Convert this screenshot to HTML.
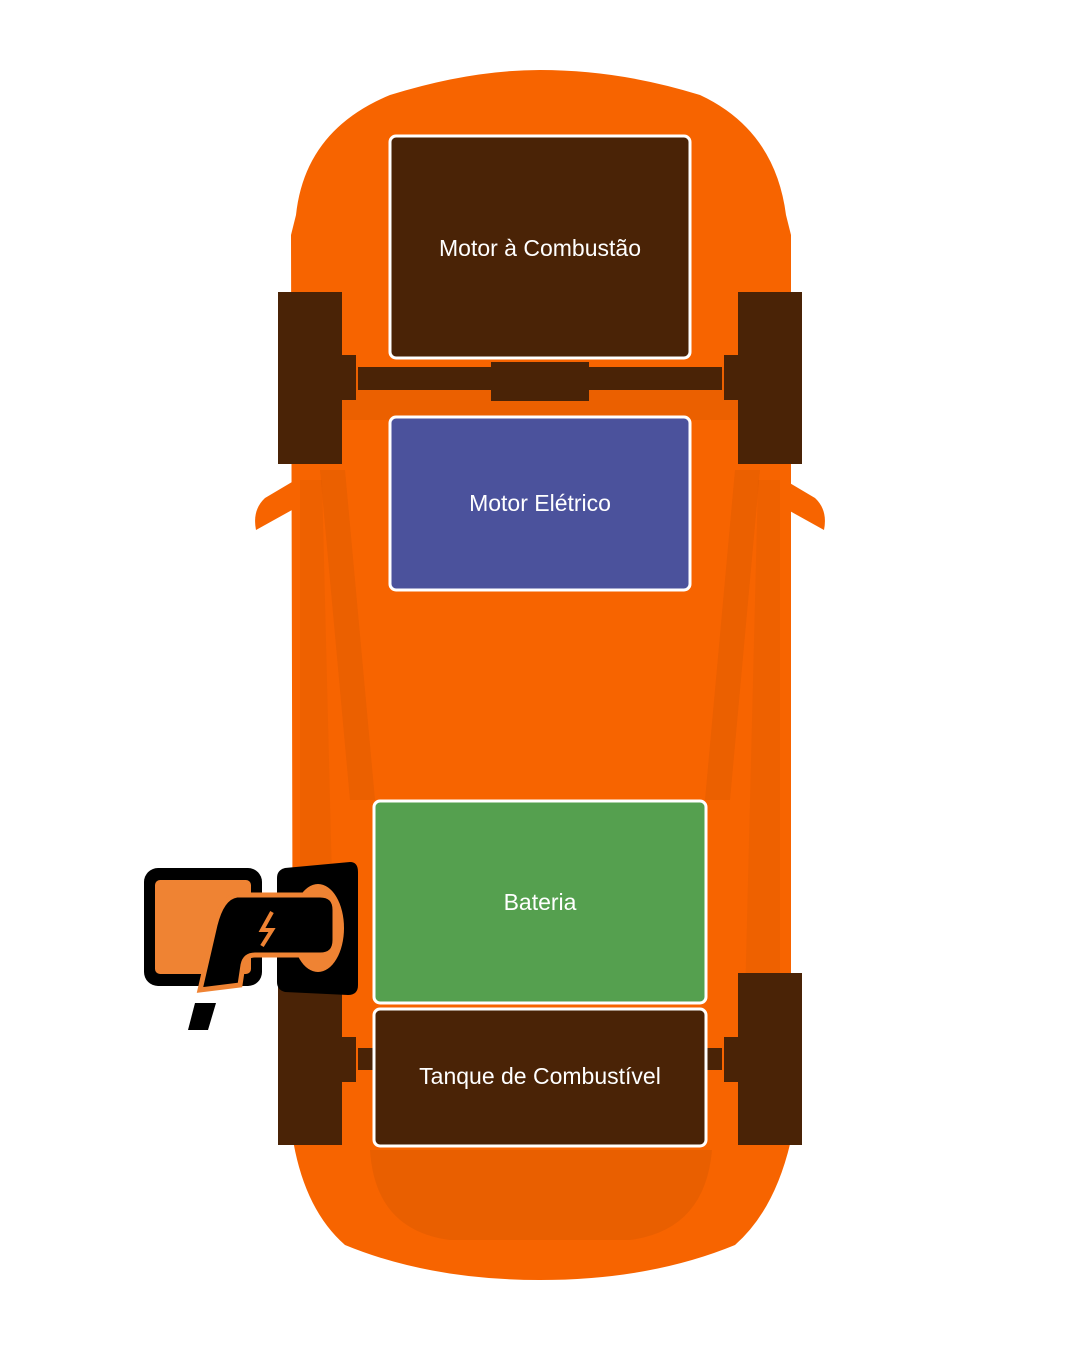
<!DOCTYPE html>
<html><head><style>
html,body{margin:0;padding:0;background:#fff;}
svg{display:block;}
text{font-family:"Liberation Sans",sans-serif;font-size:23px;fill:#fff;text-anchor:middle;dominant-baseline:central;}
</style></head><body>
<svg width="1080" height="1350" viewBox="0 0 1080 1350" xmlns="http://www.w3.org/2000/svg">
<path d="M292 482 L265 498 Q252 510 256 530 L292 510 Z" fill="#f76400"/>
<path d="M788 482 L815 498 Q828 510 824 530 L788 510 Z" fill="#f76400"/>
<path d="M296 215 Q305 130 390 95 Q470 70 540 70 Q620 70 700 95 Q775 130 786 215 L791 235 L791 1140 Q775 1210 735 1245 Q650 1280 540 1280 Q430 1280 345 1245 Q305 1210 293 1140 L291 235 Z" fill="#f76400"/>
<path d="M320 470 L345 470 L375 800 L350 800 Z" fill="#dc5a00" opacity="0.45"/>
<path d="M760 470 L735 470 L705 800 L730 800 Z" fill="#dc5a00" opacity="0.45"/>
<path d="M300 480 L322 480 L335 1000 L300 1000 Z" fill="#e05c00" opacity="0.4"/>
<path d="M780 480 L758 480 L745 1000 L780 1000 Z" fill="#e05c00" opacity="0.4"/>
<path d="M370 1150 Q375 1230 450 1240 L630 1240 Q705 1230 712 1150 Z" fill="#dc5a00" opacity="0.5"/>
<path d="M330 370 L750 370 L745 420 L335 420 Z" fill="#e05c00" opacity="0.5"/>
<rect x="278" y="292" width="64" height="172" fill="#4a2306"/>
<rect x="738" y="292" width="64" height="172" fill="#4a2306"/>
<rect x="342" y="355" width="14" height="45" fill="#4a2306"/>
<rect x="724" y="355" width="14" height="45" fill="#4a2306"/>
<rect x="358" y="367" width="364" height="23" fill="#4a2306"/>
<rect x="491" y="362" width="98" height="39" fill="#4a2306"/>
<rect x="278" y="973" width="64" height="172" fill="#4a2306"/>
<rect x="738" y="973" width="64" height="172" fill="#4a2306"/>
<rect x="342" y="1037" width="14" height="45" fill="#4a2306"/>
<rect x="724" y="1037" width="14" height="45" fill="#4a2306"/>
<rect x="358" y="1048" width="364" height="22" fill="#4a2306"/>
<rect x="390" y="136" width="300" height="222" rx="6" fill="#4a2306" stroke="#fff" stroke-width="3"/>
<text x="540" y="248">Motor à Combustão</text>
<rect x="390" y="417" width="300" height="173" rx="6" fill="#4b529c" stroke="#fff" stroke-width="3"/>
<text x="540" y="503">Motor Elétrico</text>
<rect x="374" y="801" width="332" height="202" rx="6" fill="#55a04f" stroke="#fff" stroke-width="3"/>
<text x="540" y="902">Bateria</text>
<rect x="374" y="1009" width="332" height="137" rx="6" fill="#4a2306" stroke="#fff" stroke-width="3"/>
<text x="540" y="1076">Tanque de Combustível</text>
<rect x="144" y="868" width="118" height="118" rx="14" fill="#000"/>
<rect x="155" y="880" width="96" height="94" rx="5" fill="#ef8333"/>
<path d="M285 868 L350 862 Q358 862 358 872 L358 985 Q358 995 348 995 L285 992 Q277 990 277 982 L277 878 Q277 870 285 868 Z" fill="#000"/>
<ellipse cx="318" cy="928" rx="26" ry="44" fill="#ef8333"/>
<path d="M237 895 L320 895 Q335 895 335 910 L335 940 Q335 955 320 955 L255 955 Q245 955 243 965 L240 985 L200 990 L215 925 Q222 897 237 895 Z" fill="#000" stroke="#ef8333" stroke-width="5"/>
<path d="M272 912 L262 930 L272 930 L262 946" fill="none" stroke="#ef8333" stroke-width="4"/>
<path d="M195 1003 L216 1003 L208 1030 L188 1030 Z" fill="#000"/>
</svg>
</body></html>
